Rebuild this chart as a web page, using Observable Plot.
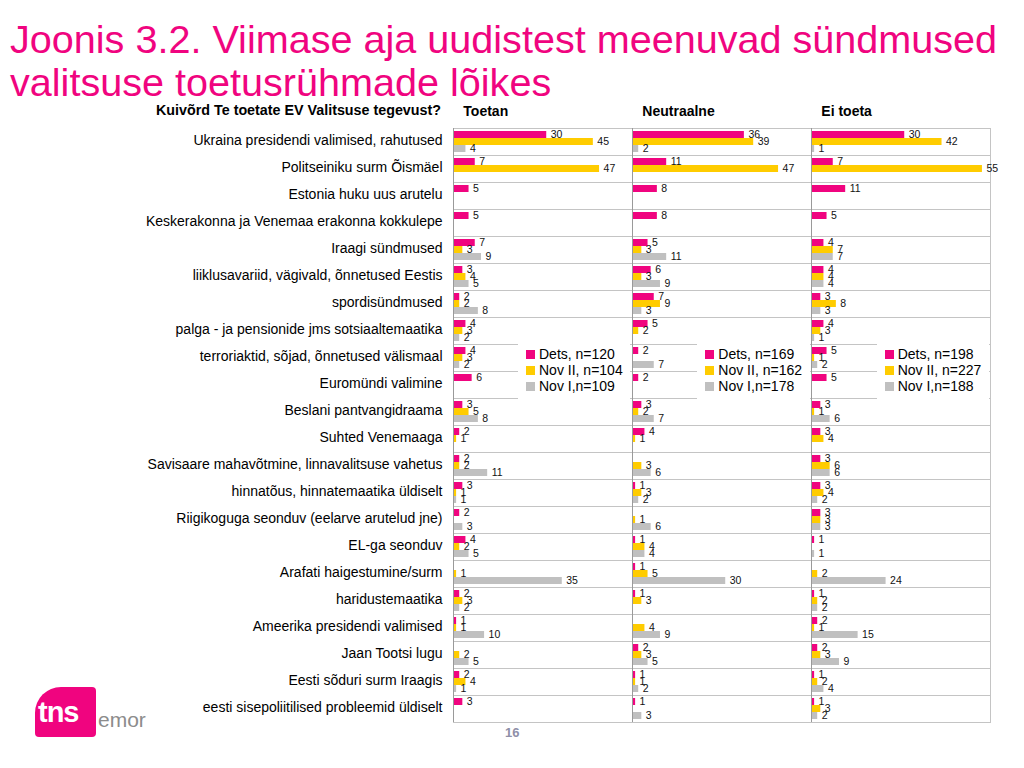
<!DOCTYPE html>
<html>
<head>
<meta charset="utf-8">
<script src="https://cdn.jsdelivr.net/npm/d3@7"></script>
<script src="https://cdn.jsdelivr.net/npm/@observablehq/plot@0.6"></script>
<style>
  html, body { margin: 0; padding: 0; background: #fff; }
  body { width: 1024px; height: 768px; position: relative; overflow: hidden; font-family: "Liberation Sans", Arial, sans-serif; }
  #chart { position: absolute; left: 0; top: 0; }
  #title { position: absolute; left: 10px; top: 18px; font-size: 39.6px; line-height: 43px; color: #f0047f; z-index: 2; white-space: nowrap; }
  #question { position: absolute; right: calc(1024px - 441px); top: 102px; font-size: 14.3px; font-weight: bold; z-index: 2; white-space: nowrap; }
  .legend { position: absolute; background: #fff; z-index: 2; padding-top: 2px; }
  .legend .item { display: flex; align-items: center; height: 16px; font-size: 14px; white-space: nowrap; }
  .legend .sw { width: 9px; height: 9px; margin-right: 4px; margin-left: 8px; }
  #page { position: absolute; left: 505px; top: 725px; font-size: 13px; font-weight: bold; color: #8f8fa8; z-index: 2; }
  #logo { position: absolute; left: 35px; top: 687px; width: 61px; height: 50px; background: #f0047f; border-radius: 26px 4px 4px 4px; z-index: 2; }
  #logo span { position: absolute; left: 3px; top: 9px; color: #fff; font-weight: bold; font-size: 29px; letter-spacing: -1px; }
  #emor { position: absolute; left: 98px; top: 708px; font-size: 21px; color: #8c8c8c; z-index: 2; }
</style>
</head>
<body>
<div id="chart"></div>
<div id="title">Joonis 3.2. Viimase aja uudistest meenuvad sündmused<br>valitsuse toetusrühmade lõikes</div>
<div id="question">Kuivõrd Te toetate EV Valitsuse tegevust?</div>
<div id="page">16</div>
<div id="logo"><span>tns</span></div>
<div id="emor">emor</div>
<script>
const categories = [
  "Ukraina presidendi valimised, rahutused",
  "Politseiniku surm Õismäel",
  "Estonia huku uus arutelu",
  "Keskerakonna ja Venemaa erakonna kokkulepe",
  "Iraagi sündmused",
  "liiklusavariid, vägivald, õnnetused Eestis",
  "spordisündmused",
  "palga - ja pensionide jms sotsiaaltemaatika",
  "terroriaktid, sõjad, õnnetused välismaal",
  "Euromündi valimine",
  "Beslani pantvangidraama",
  "Suhted Venemaaga",
  "Savisaare mahavõtmine, linnavalitsuse vahetus",
  "hinnatõus, hinnatemaatika üldiselt",
  "Riigikoguga seonduv (eelarve arutelud jne)",
  "EL-ga seonduv",
  "Arafati haigestumine/surm",
  "haridustemaatika",
  "Ameerika presidendi valimised",
  "Jaan Tootsi lugu",
  "Eesti sõduri surm Iraagis",
  "eesti sisepoliitilised probleemid üldiselt"
];
const panels = ["Toetan", "Neutraalne", "Ei toeta"];
const series = ["Dets", "Nov II", "Nov I"];
const seriesColors = ["#f0047f", "#ffcc00", "#c0c0c0"];

const toetanDets  = [30, 7, 5, 5, 7, 3, 2, 4, 4, 6, 3, 2, 2, 3, 2, 4, null, 2, 1, null, 2, 3];
const toetanNovII = [45, 47, null, null, 3, 4, 2, 3, 3, null, 5, 1, 2, 1, null, 2, 1, 3, 1, 2, 4, null];
const toetanNovI  = [4, null, null, null, 9, 5, 8, 2, 2, null, 8, null, 11, 1, 3, 5, 35, 2, 10, 5, 1, null];

const neutDets  = [36, 11, 8, 8, 5, 6, 7, 5, 2, 2, 3, 4, null, 1, null, 1, 1, 1, null, 2, 1, 1];
const neutNovII = [39, 47, null, null, 3, 3, 9, 2, null, null, 2, 1, 3, 3, 1, 4, 5, 3, 4, 3, 1, null];
const neutNovI  = [2, null, null, null, 11, 9, 3, null, 7, null, 7, null, 6, 2, 6, 4, 30, null, 9, 5, 2, 3];

const eiDets  = [30, 7, 11, 5, 4, 4, 3, 4, 5, 5, 3, 3, 3, 3, 3, 1, null, 1, 2, 2, 1, 1];
const eiNovII = [42, 55, null, null, 7, 4, 8, 3, 1, null, 1, 4, 6, 4, 3, null, 2, 2, 1, 3, 2, 3];
const eiNovI  = [1, null, null, null, 7, 4, 3, 1, 2, null, 6, null, 6, 2, 3, 1, 24, 2, 15, 9, 4, 2];

const legendToetan = ["Dets, n=120", "Nov II, n=104", "Nov I,n=109"];
const legendNeut   = ["Dets, n=169", "Nov II, n=162", "Nov I,n=178"];
const legendEi     = ["Dets, n=198", "Nov II, n=227", "Nov I,n=188"];

const panelValues = [
  [toetanDets, toetanNovII, toetanNovI],
  [neutDets, neutNovII, neutNovI],
  [eiDets, eiNovII, eiNovI]
];
const legends = [legendToetan, legendNeut, legendEi];

const data = [];
panels.forEach((p, pi) => {
  series.forEach((s, si) => {
    panelValues[pi][si].forEach((v, ci) => {
      if (v != null) data.push({panel: p, series: s, cat: categories[ci], value: v});
    });
  });
});

const mL = 452, mR = 34, mT = 125, H = 740, mB = 15;

const chart = Plot.plot({
  width: 1024,
  height: H,
  marginLeft: mL,
  marginRight: mR,
  marginTop: mT,
  marginBottom: mB,
  style: {fontFamily: "'Liberation Sans', Arial, sans-serif", fontSize: "10px", color: "#000", background: "transparent"},
  fx: {domain: panels, padding: 0, label: null},
  fy: {domain: categories, padding: 0, label: null},
  x: {domain: [0, 57.6], axis: null},
  y: {domain: series, paddingInner: 0, paddingOuter: 0.36, axis: null},
  color: {domain: series, range: seriesColors},
  marks: [
    Plot.frame({stroke: "#c4c4c4", strokeWidth: 1}),
    Plot.barX(data, {fx: "panel", fy: "cat", y: "series", x: "value", fill: "series"}),
    Plot.ruleX([0], {stroke: "#9a9a9a", strokeWidth: 1}),
    Plot.text(data, {fx: "panel", fy: "cat", y: "series", x: "value", text: d => String(d.value), textAnchor: "start", dx: 4, fontSize: 10.5, fill: "#111"}),
    Plot.axisFy({anchor: "left", tickSize: 0, tickPadding: 11, fontSize: 14, label: null, fill: "#000", dy: -1.5}),
    Plot.axisFx({anchor: "top", tickSize: 0, tickPadding: 13, fontSize: 14, fontWeight: "bold", label: null, textAnchor: "start", dx: -(1024 - mL - mR) / 6 + 10, fill: "#000"})
  ]
});
document.getElementById("chart").appendChild(chart);

// legends inside each panel
const panelW = (1024 - mL - mR) / 3;
legends.forEach((labels, pi) => {
  const div = document.createElement("div");
  div.className = "legend";
  div.style.left = (mL + pi * panelW + 66) + "px";
  div.style.top = "344px";
  div.style.width = (panelW - 67) + "px";
  div.style.height = "54px";
  labels.forEach((lab, si) => {
    const it = document.createElement("div");
    it.className = "item";
    const sw = document.createElement("div");
    sw.className = "sw";
    sw.style.background = seriesColors[si];
    const t = document.createElement("span");
    t.textContent = lab;
    t.style.whiteSpace = "pre";
    it.appendChild(sw);
    it.appendChild(t);
    div.appendChild(it);
  });
  document.body.appendChild(div);
});
</script>
</body>
</html>
